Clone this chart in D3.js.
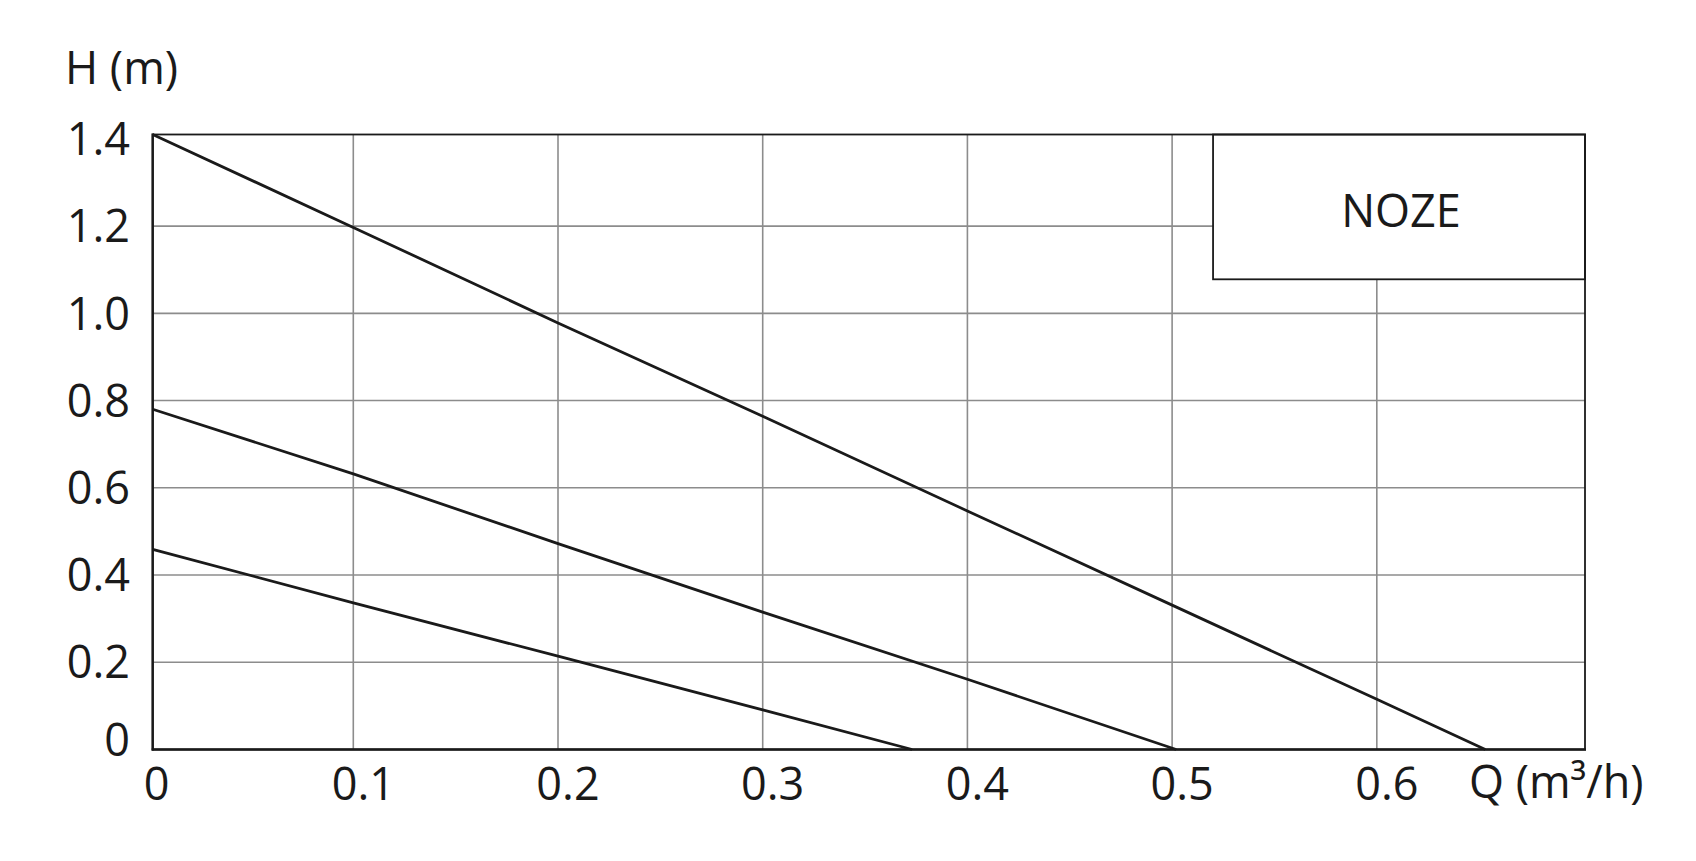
<!DOCTYPE html>
<html>
<head>
<meta charset="utf-8">
<script src="https://cdn.jsdelivr.net/npm/d3@7/dist/d3.min.js"></script>
<style>
  html, body { margin: 0; padding: 0; background: #fff; }
  svg { display: block; }
  text { font-family: "Open Sans", "Noto Sans", sans-serif; fill: #1a1a1a; }
</style>
</head>
<body>
<svg id="chart" width="1696" height="861"></svg>
<script>
// ---- data ----
const xTicks = [0, 0.1, 0.2, 0.3, 0.4, 0.5, 0.6];
const xTickLabels = ["0", "0.1", "0.2", "0.3", "0.4", "0.5", "0.6"];
const yTicks = [0, 0.2, 0.4, 0.6, 0.8, 1.0, 1.2, 1.4];
const yTickLabels = ["0", "0.2", "0.4", "0.6", "0.8", "1.0", "1.2", "1.4"];
const curveHigh = [[0, 1.41], [0.1, 1.197], [0.2, 0.978], [0.3, 0.764], [0.4, 0.547], [0.5, 0.331], [0.6, 0.115], [0.653, 0]];
const curveMid  = [[0, 0.78], [0.1, 0.632], [0.2, 0.472], [0.3, 0.315], [0.4, 0.161], [0.502, 0]];
const curveLow  = [[0, 0.459], [0.1, 0.336], [0.2, 0.214], [0.3, 0.091], [0.373, 0]];
const curves = [curveHigh, curveMid, curveLow];
const legendLabel = "NOZE";
const xAxisTitle = "Q (m³/h)";
const yAxisTitle = "H (m)";

// ---- layout ----
const xMax = 0.7017, yMax = 1.41;
const svg = d3.select("#chart");
const x = d3.scaleLinear().domain([0, 0.1, xMax]).range([152.7, 353.3, 1585]);
const y = d3.scaleLinear().domain([0, yMax]).range([749.5, 134.5]);
const gridColor = "#8c8c8c";
const ink = "#1a1a1a";

// grid
svg.append("g").selectAll("line.v")
  .data(xTicks.filter(d => d > 0))
  .join("line")
  .attr("x1", d => x(d)).attr("x2", d => x(d))
  .attr("y1", y(0)).attr("y2", y(yMax))
  .attr("stroke", gridColor).attr("stroke-width", 1.6);
svg.append("g").selectAll("line.h")
  .data(yTicks.filter(d => d > 0 && d < yMax - 0.05))
  .join("line")
  .attr("x1", x(0)).attr("x2", x(xMax))
  .attr("y1", d => y(d)).attr("y2", d => y(d))
  .attr("stroke", gridColor).attr("stroke-width", 1.6);

// legend box (covers grid)
const lx0 = x(0.52), ly0 = y(1.078);
svg.append("rect")
  .attr("x", lx0).attr("y", y(yMax))
  .attr("width", x(xMax) - lx0).attr("height", ly0 - y(yMax))
  .attr("fill", "#fff").attr("stroke", ink).attr("stroke-width", 1.8);
svg.append("text")
  .attr("x", (lx0 + x(xMax)) / 2 + 2).attr("y", 227)
  .attr("text-anchor", "middle")
  .attr("font-size", 45)
  .text(legendLabel);

// frame
svg.append("rect")
  .attr("x", x(0)).attr("y", y(yMax))
  .attr("width", x(xMax) - x(0)).attr("height", y(0) - y(yMax))
  .attr("fill", "none").attr("stroke", ink).attr("stroke-width", 1.8);
svg.append("line")
  .attr("x1", x(0)).attr("x2", x(0)).attr("y1", y(yMax) - 1).attr("y2", y(0) + 1)
  .attr("stroke", ink).attr("stroke-width", 2.4);
svg.append("line")
  .attr("x1", x(0) - 1).attr("x2", x(xMax) + 1).attr("y1", y(0)).attr("y2", y(0))
  .attr("stroke", ink).attr("stroke-width", 2.4);

// curves
const line = d3.line().x(d => x(d[0])).y(d => y(d[1]));
svg.append("g").selectAll("path")
  .data(curves)
  .join("path")
  .attr("d", line)
  .attr("fill", "none")
  .attr("stroke", ink)
  .attr("stroke-width", 2.8)
  .attr("stroke-linecap", "butt");

// y tick labels
svg.append("g").selectAll("text")
  .data(yTicks)
  .join("text")
  .attr("x", 130)
  .attr("y", d => y(d) + (d === 0 ? -10 : 0))
  .attr("dy", "0.36em")
  .attr("text-anchor", "end")
  .attr("font-size", 45)
  .text((d, i) => yTickLabels[i]);

// x tick labels
svg.append("g").selectAll("text")
  .data(xTicks)
  .join("text")
  .attr("x", d => x(d) + (d === 0 ? 4 : 10))
  .attr("y", 800)
  .attr("text-anchor", "middle")
  .attr("font-size", 45)
  .text((d, i) => xTickLabels[i]);

// axis titles
svg.append("text")
  .attr("x", 65).attr("y", 84)
  .attr("font-size", 45)
  .text(yAxisTitle);
svg.append("text")
  .attr("x", 1469).attr("y", 798)
  .attr("font-size", 45)
  .text(xAxisTitle);
</script>
</body>
</html>
